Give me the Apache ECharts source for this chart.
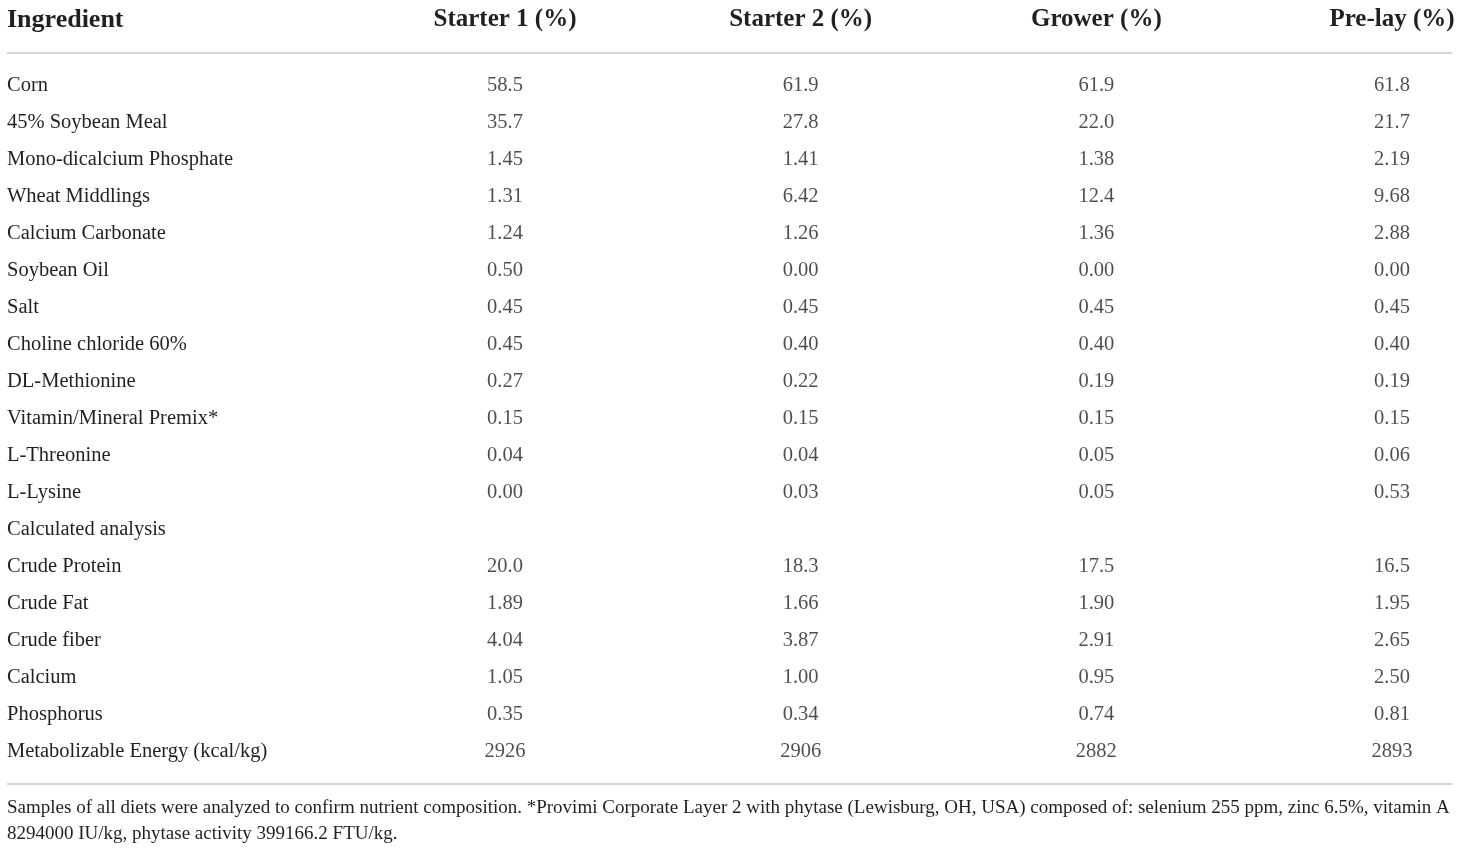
<!DOCTYPE html>
<html><head><meta charset="utf-8">
<script src="https://cdn.jsdelivr.net/npm/echarts@6/dist/echarts.min.js"></script>
<style>html,body{margin:0;padding:0;background:#fff}#c{width:1460px;height:850px}</style>
</head><body><div id="c"></div>
<script>
const columns = ['Starter 1 (%)', 'Starter 2 (%)', 'Grower (%)', 'Pre-lay (%)'];
const ingredients = ['Corn','45% Soybean Meal','Mono-dicalcium Phosphate','Wheat Middlings','Calcium Carbonate','Soybean Oil','Salt','Choline chloride 60%','DL-Methionine','Vitamin/Mineral Premix*','L-Threonine','L-Lysine','Calculated analysis','Crude Protein','Crude Fat','Crude fiber','Calcium','Phosphorus','Metabolizable Energy (kcal/kg)'];
const starter1 = ['58.5','35.7','1.45','1.31','1.24','0.50','0.45','0.45','0.27','0.15','0.04','0.00','','20.0','1.89','4.04','1.05','0.35','2926'];
const starter2 = ['61.9','27.8','1.41','6.42','1.26','0.00','0.45','0.40','0.22','0.15','0.04','0.03','','18.3','1.66','3.87','1.00','0.34','2906'];
const grower   = ['61.9','22.0','1.38','12.4','1.36','0.00','0.45','0.40','0.19','0.15','0.05','0.05','','17.5','1.90','2.91','0.95','0.74','2882'];
const prelay   = ['61.8','21.7','2.19','9.68','2.88','0.00','0.45','0.40','0.19','0.15','0.06','0.53','','16.5','1.95','2.65','2.50','0.81','2893'];
const footnote = 'Samples of all diets were analyzed to confirm nutrient composition. *Provimi Corporate Layer 2 with phytase (Lewisburg, OH, USA) composed of: selenium 255 ppm, zinc 6.5%, vitamin A\n8294000 IU/kg, phytase activity 399166.2 FTU/kg.';

const FONT = '"Liberation Serif", "DejaVu Serif", serif';
const TXT = '#231f20';
const cols = [starter1, starter2, grower, prelay];
const cells = [];
cols.forEach((arr, ci) => arr.forEach((v, ri) => { if (v !== '') cells.push([ci, ri, v]); }));

const chart = echarts.init(document.getElementById('c'));
chart.setOption({
  animation: false,
  backgroundColor: '#fff',
  title: [
    { text: 'Ingredient', left: 7, top: 7, padding: 0, textStyle: { fontFamily: FONT, fontSize: 26, fontWeight: 'bold', color: TXT } },
    { text: footnote, left: 7, top: 795, padding: 0, textStyle: { fontFamily: FONT, fontSize: 19, fontWeight: 'normal', color: TXT, lineHeight: 26 } }
  ],
  grid: { left: 505, right: 68, top: 86, bottom: 98 },
  xAxis: {
    type: 'category', position: 'top', boundaryGap: false, data: columns,
    axisLine: { show: false }, axisTick: { show: false }, splitLine: { show: false },
    axisLabel: { interval: 0, margin: 66, verticalAlign: 'middle', fontFamily: FONT, fontSize: 25, fontWeight: 'bold', color: TXT }
  },
  yAxis: {
    type: 'category', inverse: true, boundaryGap: false, data: ingredients,
    axisLine: { show: false }, axisTick: { show: false }, splitLine: { show: false },
    axisLabel: { interval: 0, align: 'left', margin: 498, fontFamily: FONT, fontSize: 20.5, color: TXT }
  },
  series: [{
    type: 'scatter', data: cells, symbolSize: 0, silent: true,
    label: { show: true, position: 'inside', formatter: p => p.value[2], fontFamily: FONT, fontSize: 20.5, color: TXT }
  }],
  graphic: [
    { type: 'line', shape: { x1: 7, y1: 53, x2: 1452, y2: 53 }, style: { stroke: '#c8c8c8', lineWidth: 1.5 } },
    { type: 'line', shape: { x1: 7, y1: 784, x2: 1452, y2: 784 }, style: { stroke: '#c8c8c8', lineWidth: 1.5 } }
  ]
});
</script></body></html>
